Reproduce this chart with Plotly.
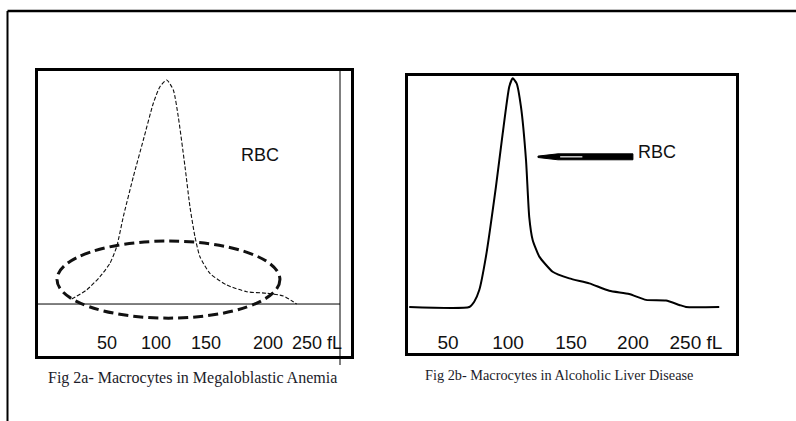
import plotly.graph_objects as go

# ---------------- data ----------------
# Fig 2a - RBC histogram (Megaloblastic anemia), volume in fL, relative count (%)
a_volume = [14.3, 29.5, 42.9, 53.0, 59.8, 66.5, 76.6, 86.7, 96.8, 103.5, 110.3,
            117.0, 122.0, 128.8, 133.8, 138.9, 143.9, 154.0, 170.9, 191.1, 211.3,
            228.1, 238.2, 241.6]
a_count = [2.2, 6.3, 12.2, 18.2, 25.6, 39.0, 56.8, 73.2, 89.6, 97.0, 100.0,
           95.5, 83.6, 61.3, 43.4, 30.0, 21.1, 13.7, 8.5, 5.5, 4.8,
           3.6, 1.0, 0.0]
a_tick_pos = [50, 99.5, 150, 212.6, 262.1]
a_tick_text = ["50", "100", "150", "200", "250 fL"]

# Fig 2b - RBC histogram (Alcoholic liver disease)
b_volume = [18.6, 67.3, 71.3, 75.4, 80.8, 88.9, 94.4, 99.7, 102.5, 105.7, 109.2,
            113.3, 115.9, 118.7, 124.1, 134.9, 148.4, 164.6, 180.8, 197.0, 210.6,
            226.8, 237.6, 243.0, 270.0]
b_count = [0.0, 0.0, 2.3, 7.4, 22.0, 52.5, 75.8, 96.2, 99.9, 97.7, 87.5,
           64.2, 39.4, 29.3, 22.0, 15.4, 12.5, 10.3, 7.1, 5.7, 3.1,
           2.8, 0.9, 0.0, 0.0]
b_tick_pos = [50, 98.7, 149.8, 200, 251.1]
b_tick_text = ["50", "100", "150", "200", "250 fL"]

captions = ["Fig 2a- Macrocytes in Megaloblastic Anemia",
            "Fig 2b- Macrocytes in Alcoholic Liver Disease"]

# ---------------- figure ----------------
W, H = 796, 421
def px(x):
    return x / W
def py(y):
    return 1 - y / H

fig = go.Figure()
fig.add_trace(go.Scatter(x=a_volume, y=a_count, mode="lines", xaxis="x", yaxis="y",
                         line=dict(color="#111", width=1.1, dash="4px,2px", shape="spline", smoothing=0.6),
                         showlegend=False, hoverinfo="skip"))
fig.add_trace(go.Scatter(x=b_volume, y=b_count, mode="lines", xaxis="x2", yaxis="y2",
                         line=dict(color="#000", width=2, shape="spline", smoothing=0.5),
                         showlegend=False, hoverinfo="skip"))

sans = "Liberation Sans, Arial, sans-serif"
serif = "Liberation Serif, Times New Roman, serif"

box = dict(showline=True, mirror=True, linecolor="black", linewidth=3,
           showgrid=False, zeroline=False)

fig.update_layout(
    width=W, height=H, margin=dict(l=0, r=0, t=0, b=0),
    paper_bgcolor="white", plot_bgcolor="white",
    xaxis=dict(domain=[px(38), px(351)], range=[-19.7, 296.5], anchor="y",
               tickvals=a_tick_pos, ticktext=a_tick_text, ticks="",
               ticklabelposition="inside", ticklabelstandoff=4,
               tickfont=dict(family=sans, size=18, color="#111"), **box),
    yaxis=dict(domain=[py(356), py(71)], range=[-23.2, 104], anchor="x",
               showticklabels=False, ticks="", **box),
    xaxis2=dict(domain=[px(408), px(736)], range=[17.6, 283.6], anchor="y2",
                tickvals=b_tick_pos, ticktext=b_tick_text, ticks="",
                ticklabelposition="inside", ticklabelstandoff=1,
                tickfont=dict(family=sans, size=19, color="#111"), **box),
    yaxis2=dict(domain=[py(353), py(76)], range=[-20.1, 100.9], anchor="x2",
                showticklabels=False, ticks="", **box),
)

shapes = []
# outer frame (top and left edges)
shapes.append(dict(type="line", xref="paper", yref="paper", x0=px(7.5), x1=1.0,
                   y0=py(11), y1=py(11), line=dict(color="black", width=2.5)))
shapes.append(dict(type="line", xref="paper", yref="paper", x0=px(7.5), x1=px(7.5),
                   y0=py(11), y1=0, line=dict(color="black", width=2)))
# panel A baseline and inner right rule
shapes.append(dict(type="line", xref="x", yref="y", x0=-19.7, x1=285.4, y0=0, y1=0,
                   line=dict(color="black", width=1)))
shapes.append(dict(type="line", xref="x", yref="paper", x0=285.4, x1=285.4,
                   y0=py(365), y1=py(71), line=dict(color="black", width=1)))
# panel A dashed ellipse
shapes.append(dict(type="circle", xref="x", yref="y", x0=-0.5, x1=224.7, y0=-6.3, y1=28.1,
                   line=dict(color="#111", width=3, dash="10px,5px")))
# panel B arrow
shapes.append(dict(type="path", xref="x2", yref="y2",
                   path="M 123,65.3 L 139.2,64.3 L 200,64.3 L 200,66.9 L 139.2,66.9 L 123,65.9 Z",
                   fillcolor="black", line=dict(color="black", width=1)))
shapes.append(dict(type="rect", xref="x2", yref="y2", x0=141, x1=159, y0=65.3, y1=65.9,
                   fillcolor="#ddd", line=dict(width=0)))
fig.update_layout(shapes=shapes)

annotations = [
    dict(xref="x", yref="y", x=204.5, y=66.5, text="RBC", showarrow=False,
         font=dict(family=sans, size=18, color="#111")),
    dict(xref="x2", yref="y2", x=202.5, y=67.7, text="RBC", showarrow=False,
         xanchor="left", font=dict(family=sans, size=18, color="#111")),
    dict(xref="paper", yref="paper", x=px(46), y=py(378), text=captions[0], showarrow=False,
         xanchor="left", yanchor="middle", font=dict(family=serif, size=16, color="#1c1c2a")),
    dict(xref="paper", yref="paper", x=px(423), y=py(375), text=captions[1], showarrow=False,
         xanchor="left", yanchor="middle", font=dict(family=serif, size=14.3, color="#1c1c2a")),
]
fig.update_layout(annotations=annotations)

fig.write_html("out.html", config={"displayModeBar": False},
               post_script="document.body.style.margin='0px';document.body.style.overflow='hidden';")
